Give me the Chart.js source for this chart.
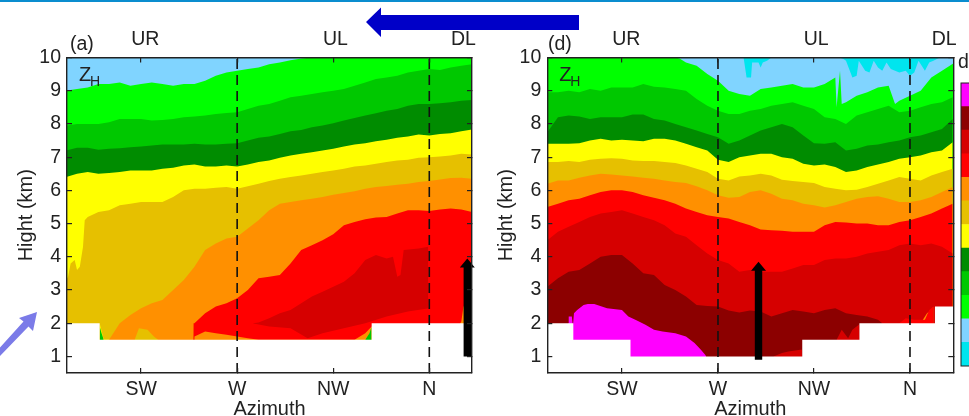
<!DOCTYPE html>
<html><head><meta charset="utf-8">
<script src="https://cdn.jsdelivr.net/npm/chart.js@4"></script>
<style>
html,body{margin:0;padding:0;background:#fff;width:969px;height:416px;overflow:hidden}
canvas{position:absolute;filter:blur(.45px)}
#stripe{position:absolute;left:0;top:0;width:969px;height:2px;background:#0a8dcf}
#ov{position:absolute;left:0;top:0;filter:blur(.4px)}
</style></head><body>
<div id="stripe"></div>
<div style="position:absolute;left:0;top:0;width:490px;height:416px"><canvas id="a"></canvas></div>
<div style="position:absolute;left:490px;top:0;width:479px;height:416px"><canvas id="d"></canvas></div>
<div style="position:absolute;left:950px;top:50px;width:60px;height:320px"><canvas id="cb"></canvas></div>
<svg id="ov" width="969" height="416">
<polygon points="366,22 381,7.5 381,15 579,15 579,30 381,30 381,37" fill="#0000c8"/>
<polygon points="37,312 33,331 28.5,326.5 0,356 -4,352 23.5,321.5 19,318" fill="#7b7be8"/>
</svg>
<script>
// ---------- shared ----------
const azimuths=[190,195,200,205,210,215,220,225,230,235,240,245,250,255,260,265,270,275,280,285,290,295,300,305,310,315,320,325,330,335,340,345,350,355,360,365,370,375,380];
const heightTicks=[1,2,3,4,5,6,7,8,9,10];
const compassTicks=[225,270,315,360];
const compassLabels=['SW','W','NW','N'];
const sectorTicks=[227,316,376];
const sectorLabels=['UR','UL','DL'];
const dashedAzimuths=[270,360];
const levelNames=['cyan','lightblue','brightgreen','green','darkgreen','yellow','gold','orange','red','crimson','maroon','magenta'];
const levelColors=['#00e5ee','#80d4ff','#00ff00','#00c800','#008c00','#ffff00','#e6c000','#ff9000','#ff0000','#d60000','#8c0000','#ff00ff'];

// ---------- panel (a): top of each reflectivity band ----------
const aLightblueTop=azimuths.map(()=>10);
const aBrightgreenTop=[9.0,9.05,9.1,9.2,9.2,9.25,9.15,9.2,9.25,9.2,9.15,9.2,9.2,9.3,9.45,9.55,9.6,9.65,9.7,9.8,9.85,9.92,9.97,10,10,10,10,10,10,10,10,10,10,10,10,10,10,10,10];
const aGreenTop=[7.95,8,8,8,8.05,8.15,8.15,8.15,8.1,8.12,8.15,8.2,8.22,8.25,8.3,8.33,8.35,8.45,8.55,8.6,8.7,8.8,8.85,8.9,8.95,9,9.05,9.15,9.25,9.35,9.4,9.45,9.55,9.6,9.65,9.62,9.7,9.75,9.8];
const aDarkgreenTop=[7.2,7.28,7.28,7.22,7.25,7.27,7.3,7.32,7.35,7.38,7.38,7.38,7.4,7.38,7.38,7.4,7.42,7.5,7.58,7.62,7.7,7.78,7.82,7.9,7.95,8.02,8.1,8.18,8.25,8.32,8.4,8.45,8.55,8.6,8.6,8.62,8.65,8.7,8.72];
const aYellowTop=[6.4,6.5,6.55,6.5,6.52,6.55,6.6,6.6,6.6,6.65,6.68,6.75,6.78,6.72,6.72,6.75,6.72,6.78,6.85,6.9,6.98,7.05,7.1,7.15,7.2,7.25,7.32,7.38,7.42,7.48,7.52,7.58,7.62,7.68,7.65,7.7,7.72,7.78,7.83];
const aGoldAz=[190,190.8,192,193.9,195,196.3,197.8,198.6,200,205,210,215,220,225,230,235,240,245,250,255,260,265,270,275,280,285,290,295,300,305,310,315,320,325,330,335,340,345,350,355,360,365,370,375,380];
const aGoldTop=[3.3,3.4,3.8,3.9,3.6,3.7,4.3,5.1,5.2,5.35,5.4,5.55,5.6,5.65,5.65,5.65,5.8,6,6.05,6.05,6.08,6.1,6.05,6.12,6.2,6.28,6.35,6.4,6.45,6.5,6.55,6.6,6.65,6.72,6.75,6.8,6.85,6.9,6.92,6.98,7,7.02,7.05,7.1,7.08];
const aOrangeTop=[0,0,0,0,1.5,2,2.25,2.45,2.6,2.7,3,3.3,3.7,4.2,4.4,4.55,4.6,4.85,5.1,5.4,5.6,5.65,5.7,5.75,5.8,5.87,5.92,5.97,6.05,6.1,6.13,6.17,6.2,6.25,6.28,6.33,6.37,6.38,6.35];
const aRedAz=[190,249.3,249.6,250,255,260,265,270,275,280,285,290,295,300,305,310,315,320,325,330,335,340,345,350,355,360,365,370,375,380];
const aRedTop=[0,0,2,2,2.3,2.5,2.6,2.75,3,3.35,3.4,3.45,3.8,4.2,4.35,4.5,4.68,4.95,5.05,5.13,5.18,5.2,5.3,5.4,5.4,5.38,5.42,5.45,5.42,5.35];
const aLensAz=[277.5,280,285,290,295,300,305,310,315,320,325,330,335,340,343,345,346.5,348,355,359.5];
const aLensTop=[2,2.02,2.15,2.3,2.4,2.6,2.8,2.95,3.1,3.25,3.5,3.9,4.05,3.95,4,3.4,3.45,4.2,4.25,4.3];
const aLensFloorAz=[277,285,295,303,310,320,330,340,350,360];
const aLensFloor=[2,1.9,1.85,1.55,1.7,1.85,2,2.2,2.35,2.45];
const aUnderOrangeAz=[249.6,250,255,260,265,270,275,280,325,330,333,340,370,375,376,380];
const aUnderOrange=[0,1.6,1.75,1.7,1.65,1.6,1.55,1.5,1.5,1.7,1.9,1.5,1.5,2.05,2.5,2.6];
const aSpeckYellowAz=[205.6,207.5,213,214,216,217,218,220,221];
const aSpeckYellow=[2,1.5,1.5,1.8,1.85,1.6,1.9,1.6,1.5];
const aSpeckGoldAz=[222,224,228,231,233];
const aSpeckGold=[1.5,1.85,1.8,1.6,1.5];
const aSpeckGreenAz=[205.6,206.5,207.5,330,332,333];
const aSpeckGreen=[1.9,1.7,1.5,1.5,1.7,1.9];
const aMaskAz=[190,205.6,205.6,333,333,380.5];
const aMask=[2,2,1.5,1.5,2,2];

// ---------- panel (d) ----------
const dCyanTop=azimuths.map(()=>10);
const dLightblueAz=[190,282,283.4,285.5,286,289,290,291,293,295,327,329,330,333,335,336,339,341,343,345,347,349,351,355,358,360,362,364,367,369,371,374,381];
const dLightblueTop=[10,10,9.4,9.4,9.85,9.85,9.7,9.85,9.9,10,10,9.95,9.9,9.4,9.45,9.9,9.6,9.55,9.9,9.7,9.6,9.85,9.65,9.55,9.6,9.45,9.55,9.9,9.6,9.85,9.9,10,10];
const dBrightgreenAz=[190,250,252,255,260,265,270,275,280,285,290,295,300,305,310,315,320,325,325.6,327.2,328,330,335,340,345,350,353,355,360,365,370,375,381];
const dBrightgreenTop=[10,10,9.97,9.85,9.75,9.5,9.3,9,8.9,8.85,9.05,9.1,9.15,9.2,9.1,9.1,9.2,9.4,8.5,9.6,8.6,8.65,8.85,8.95,9.1,9.15,8.6,8.7,8.85,9,9.4,9.6,9.85];
const dGreenTop=[8.95,8.95,9,8.95,9.05,9,9.1,9.1,9.1,9.2,9.12,9.1,9.05,9,8.75,8.55,8.4,8.3,8.3,8.4,8.45,8.55,8.6,8.65,8.55,8.45,8.2,8.15,8,8.25,8.35,8.45,8.55,8.35,8.4,8.5,8.6,8.65,8.8];
const dDarkgreenTop=[7.75,8.2,8.25,8.22,8.15,8.2,8.2,8.2,8.28,8.28,8.15,8.1,8,7.9,7.8,7.7,7.6,7.4,7.5,7.65,7.8,7.9,8,7.9,7.65,7.42,7.4,7.45,7.2,7.25,7.35,7.38,7.45,7.5,7.6,7.65,7.75,7.85,8.15];
const dYellowTop=[7.4,7.4,7.4,7.42,7.5,7.55,7.5,7.52,7.5,7.48,7.55,7.55,7.5,7.4,7.3,7.2,6.92,6.85,7,7.05,7.1,7.1,7,6.95,6.8,6.75,6.78,6.7,6.55,6.6,6.7,6.78,6.85,6.95,7,7.05,7.15,7.2,7.45];
const dGoldTop=[6.85,6.85,6.88,6.85,6.92,6.95,6.97,6.95,6.9,6.88,6.88,6.85,6.82,6.75,6.65,6.55,6.35,6.3,6.42,6.45,6.5,6.45,6.32,6.28,6.25,6.22,6.1,6.05,6,6.02,6.1,6.2,6.3,6.4,6.35,6.3,6.45,6.55,6.65];
const dOrangeTop=[6.2,6.3,6.3,6.38,6.45,6.5,6.48,6.45,6.42,6.38,6.35,6.3,6.25,6.22,6.12,6,5.85,5.78,5.8,5.95,6,5.9,5.75,5.7,5.6,5.55,5.48,5.55,5.65,5.75,5.8,5.82,5.75,5.65,5.65,5.7,5.8,5.95,6.1];
const dRedTop=[5.5,5.6,5.7,5.75,5.85,5.95,6,6,5.95,5.85,5.78,5.7,5.6,5.45,5.35,5.25,5.2,5.15,5.05,4.95,4.82,4.8,4.78,4.75,4.75,4.75,4.95,5.05,5.03,5,5,4.95,4.95,5.05,5.1,5.2,5.3,5.45,5.6];
const dCrimsonTop=[4.5,4.75,4.9,5.05,5.2,5.3,5.35,5.4,5.3,5.2,5.1,4.95,4.7,4.6,4.35,4.1,3.9,3.8,3.55,3.6,3.55,3.55,3.55,3.65,3.75,3.75,3.9,3.95,3.95,4,4.1,4.15,4.2,4.35,4.4,4.35,4.4,4.3,4.1];
const dMaroonAz=[190,195,200,205,210,215,220,225,230,235,240,245,250,255,260,265,270,275,280,285,290,295,300,305,310,315,320,325,330,335,340,345,347];
const dMaroonTop=[3.1,3.35,3.55,3.6,3.8,4,4.05,4.05,3.8,3.5,3.45,3.15,3,2.8,2.55,2.52,2.5,2.38,2.32,2.38,2.35,2.2,2.3,2.4,2.35,2.3,2.4,2.45,2.3,2.25,2.2,2.1,2];
const dUnderA_Az=[296,300,303,308.5,309.5];
const dUnderA=[1,1.1,1.15,1.2,1.2];
const dUnderB_Az=[325.6,328,331,333,336,336.5];
const dUnderB=[1.5,1.8,1.55,1.8,1.95,2];
const dMagentaAz=[199.8,200,201.5,202,202.5,204,207,209,212,218,225,228,232,236,240,244,250,255,259,262,264,264.5];
const dMagentaTop=[2,2.2,2.2,1.9,2.3,2.4,2.55,2.58,2.58,2.45,2.4,2.2,2.08,1.95,1.8,1.75,1.7,1.6,1.4,1.2,1.05,1];
const dSpeckRedAz=[355,358,362,367,369,371];
const dSpeckRed=[2,2.15,2.1,2.1,2.4,2.5];
const dSpeckOrangeAz=[365,368,370,371];
const dSpeckOrange=[2,2.3,2.4,2.5];
const dMaskAz=[190,202.2,202.2,229,229,309.5,309.5,336.3,336.3,371.7,371.7,381];
const dMask=[2,2,1.5,1.5,1,1,1.5,1.5,2,2,2.5,2.5];

const colorOf=n=>levelColors[levelNames.indexOf(n)];
const xy=(xs,ys)=>xs.map((x,i)=>({x,y:ys[i]}));
const fillLayer=(label,xs,ys,color)=>({label,data:xy(xs,ys),backgroundColor:color,borderWidth:0,pointRadius:0,fill:'start',tension:0});

const aLayers=[
 fillLayer('lightblue',azimuths,aLightblueTop,colorOf('lightblue')),
 fillLayer('brightgreen',azimuths,aBrightgreenTop,colorOf('brightgreen')),
 fillLayer('green',azimuths,aGreenTop,colorOf('green')),
 fillLayer('darkgreen',azimuths,aDarkgreenTop,colorOf('darkgreen')),
 fillLayer('yellow',azimuths,aYellowTop,colorOf('yellow')),
 fillLayer('gold',aGoldAz,aGoldTop,colorOf('gold')),
 fillLayer('speckYellow',aSpeckYellowAz,aSpeckYellow,colorOf('yellow')),
 fillLayer('speckGreen',aSpeckGreenAz.slice(0,3),aSpeckGreen.slice(0,3),colorOf('green')),
 fillLayer('orange',azimuths,aOrangeTop,colorOf('orange')),
 fillLayer('speckGold',aSpeckGoldAz,aSpeckGold,colorOf('gold')),
 fillLayer('red',aRedAz,aRedTop,colorOf('red')),
 fillLayer('crimson',aLensAz,aLensTop,colorOf('crimson')),
 fillLayer('redFloor',aLensFloorAz,aLensFloor,colorOf('red')),
 fillLayer('underOrange',aUnderOrangeAz,aUnderOrange,colorOf('orange')),
 fillLayer('speckGreen2',aSpeckGreenAz.slice(3),aSpeckGreen.slice(3),colorOf('green')),
 fillLayer('mask',aMaskAz,aMask,'#ffffff'),
];
const dLayers=[
 fillLayer('cyan',azimuths,dCyanTop,colorOf('cyan')),
 fillLayer('lightblue',dLightblueAz,dLightblueTop,colorOf('lightblue')),
 fillLayer('brightgreen',dBrightgreenAz,dBrightgreenTop,colorOf('brightgreen')),
 fillLayer('green',azimuths,dGreenTop,colorOf('green')),
 fillLayer('darkgreen',azimuths,dDarkgreenTop,colorOf('darkgreen')),
 fillLayer('yellow',azimuths,dYellowTop,colorOf('yellow')),
 fillLayer('gold',azimuths,dGoldTop,colorOf('gold')),
 fillLayer('orange',azimuths,dOrangeTop,colorOf('orange')),
 fillLayer('red',azimuths,dRedTop,colorOf('red')),
 fillLayer('crimson',azimuths,dCrimsonTop,colorOf('crimson')),
 fillLayer('speckOrange',dSpeckOrangeAz,dSpeckOrange,colorOf('orange')),
 fillLayer('speckRed',dSpeckRedAz,dSpeckRed,colorOf('red')),
 fillLayer('maroon',dMaroonAz,dMaroonTop,colorOf('maroon')),
 fillLayer('underA',dUnderA_Az,dUnderA,colorOf('crimson')),
 fillLayer('underB',dUnderB_Az,dUnderB,colorOf('crimson')),
 fillLayer('magenta',dMagentaAz,dMagentaTop,colorOf('magenta')),
 fillLayer('mask',dMaskAz,dMask,'#ffffff'),
];

const INK='#222', FONT='"Liberation Sans",Arial,sans-serif', FS=19.5, TS=20;
function panel(id,letter,layers,xMin,xMax,yW,padR,arrow,letterX){
 const dashed=dashedAzimuths.map(a=>({label:'az'+a,data:[{x:a,y:0.5},{x:a,y:10}],borderColor:'#111',borderWidth:1.6,borderDash:[10,6],pointRadius:0,fill:false}));
 const ds=[...dashed,...layers.slice().reverse()];
 const sideTicks=s=>{s.ticks=heightTicks.map(v=>({value:v}))};
 const compass=s=>{s.ticks=compassTicks.map(v=>({value:v}))};
 const mark={color:INK,lineWidth:1.2,tickLength:-5,drawOnChartArea:false,z:2,tickColor:INK};
 const bd={color:INK,width:1.4,z:2};
 const overlay={id:'overlay'+id,afterDatasetsDraw(c){
  const g=c.ctx,X=c.scales.x,Y=c.scales.y;
  g.save();
  g.fillStyle='#000';
  const ax=X.getPixelForValue(arrow[0]),y0=Y.getPixelForValue(arrow[1]),y1=Y.getPixelForValue(arrow[2]);
  g.beginPath();
  g.moveTo(ax-3.7,y0);g.lineTo(ax+3.7,y0);g.lineTo(ax+3.7,y1+9);g.lineTo(ax+7.5,y1+9);g.lineTo(ax,y1);g.lineTo(ax-7.5,y1+9);g.lineTo(ax-3.7,y1+9);g.closePath();g.fill();
  g.fillStyle=INK;g.textBaseline='alphabetic';g.textAlign='left';
  const L=c.chartArea.left;
  g.font='20px '+FONT;g.fillText('Z',L+12,81);
  g.font='14px '+FONT;g.fillText('H',L+23,86);
  g.font=FS+'px '+FONT;g.fillText('('+letter+')',letterX,50);
  g.restore();
 }};
 return new Chart(document.getElementById(id),{type:'line',
  data:{datasets:ds},
  plugins:[overlay],
  options:{responsive:true,maintainAspectRatio:false,animation:false,
   layout:{padding:{right:padR,left:0,top:0,bottom:0}},
   plugins:{legend:{display:false},tooltip:{enabled:false},title:{display:false}},
   elements:{line:{tension:0}},
   scales:{
    x:{type:'linear',position:'bottom',min:xMin,max:xMax,afterBuildTicks:compass,afterFit:s=>{s.height=43},
      ticks:{autoSkip:false,maxRotation:0,padding:10,color:INK,font:{family:FONT,size:FS},callback:v=>compassLabels[compassTicks.indexOf(v)]||''},
      grid:mark,border:bd,
      title:{display:true,text:'Azimuth',color:INK,font:{family:FONT,size:TS},padding:{top:0,bottom:-5}}},
    xT:{type:'linear',position:'top',min:xMin,max:xMax,weight:0,afterBuildTicks:compass,afterFit:s=>{s.height=0},
      ticks:{display:false},grid:mark,border:bd},
    xL:{type:'linear',position:'top',min:xMin,max:xMax,weight:5,afterBuildTicks:s=>{s.ticks=sectorTicks.map(v=>({value:v}))},afterFit:s=>{s.height=57.5},
      ticks:{autoSkip:false,maxRotation:0,padding:6,color:INK,font:{family:FONT,size:FS},callback:v=>sectorLabels[sectorTicks.indexOf(v)]},
      grid:{display:false,drawTicks:false},border:{display:false}},
    y:{type:'linear',position:'left',min:0.5,max:10,afterBuildTicks:sideTicks,afterFit:s=>{s.width=yW},
      ticks:{autoSkip:false,padding:11,color:INK,font:{family:FONT,size:FS},callback:v=>String(v)},
      grid:mark,border:bd,
      title:{display:true,text:'Hight (km)',color:INK,font:{family:FONT,size:TS},padding:{top:yW-53,bottom:0}}},
    yR:{type:'linear',position:'right',min:0.5,max:10,afterBuildTicks:sideTicks,afterFit:s=>{s.width=0},
      ticks:{display:false},grid:mark,border:bd}
   }}});
}
const arrowA=[377.8,1,3.95], arrowD=[289,0.9,3.85];
panel('a','a',aLayers,190.3,380,67,18,arrowA,70);
panel('d','d',dLayers,190,380.3,57.3,15.7,arrowD,58);

new Chart(document.getElementById('cb'),{type:'bar',
 data:{labels:['dBZ'],datasets:levelNames.map((n,i)=>({label:n,data:[1],backgroundColor:levelColors[i],categoryPercentage:1,barPercentage:1,borderWidth:0}))},
 plugins:[{id:'frame',afterDatasetsDraw(c){const a=c.chartArea,g=c.ctx;g.save();g.strokeStyle=INK;g.lineWidth=1;g.strokeRect(a.left,a.top,a.width,a.height);
   g.fillStyle=INK;g.font=FS+'px '+FONT;g.textAlign='left';g.fillText('dBZ',8,18);g.restore();}}],
 options:{responsive:true,maintainAspectRatio:false,animation:false,
  layout:{padding:{left:11,right:0,top:33,bottom:4}},
  plugins:{legend:{display:false},tooltip:{enabled:false}},
  scales:{x:{stacked:true,display:false},y:{stacked:true,display:false,min:0,max:12}}}});
</script>
</body></html>
